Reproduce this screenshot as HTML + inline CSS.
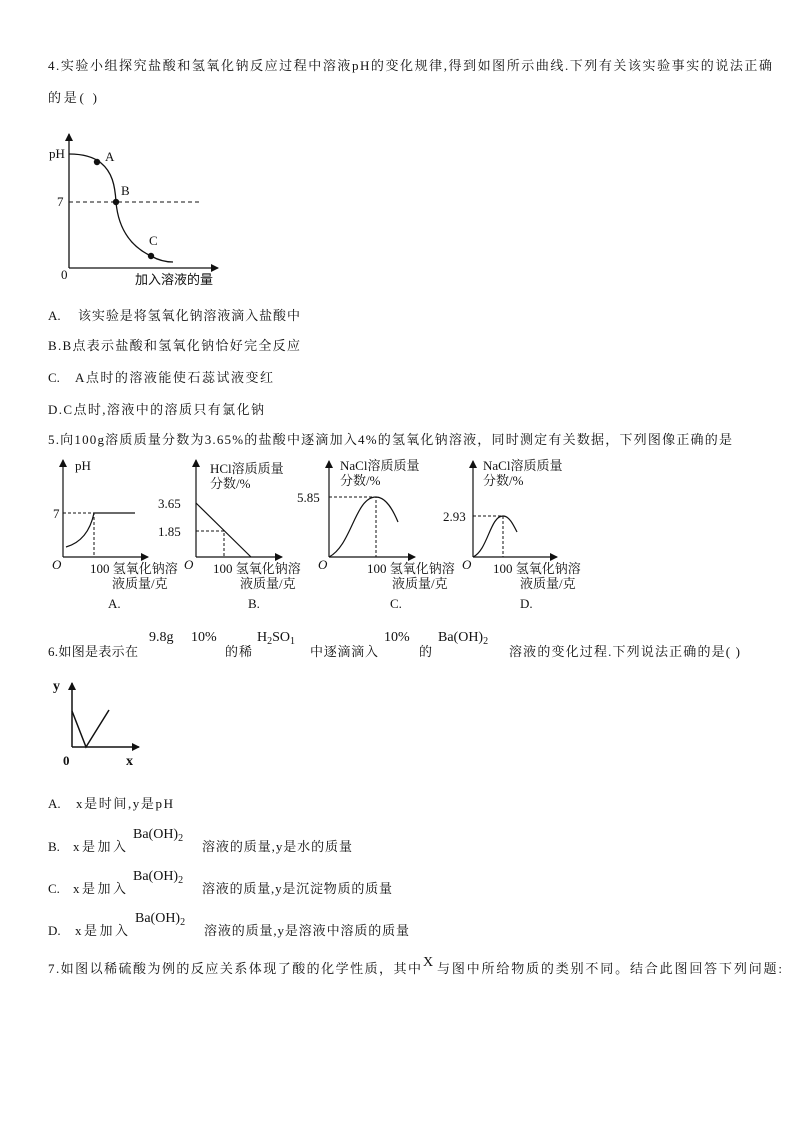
<!DOCTYPE html>
<html><head><meta charset="utf-8"><style>
html,body{margin:0;padding:0;background:#fff}
svg{display:block}
text{font-family:"Liberation Serif","Noto Serif CJK SC","Noto Sans CJK SC",serif;fill:#111}
.c{font-size:13px}
.s{font-family:"Liberation Serif",serif;font-size:14px}
.g{font-size:13px}
</style></head><body>
<svg width="794" height="1123" viewBox="0 0 794 1123" xmlns="http://www.w3.org/2000/svg">
<defs><marker id="ar" markerWidth="8" markerHeight="8" refX="7" refY="4" orient="auto" markerUnits="userSpaceOnUse"><path d="M0,0 L8,4 L0,8 Z" fill="#111"/></marker></defs>

<text class="c" x="48" y="70" textLength="724" lengthAdjust="spacing">4.实验小组探究盐酸和氢氧化钠反应过程中溶液pH的变化规律,得到如图所示曲线.下列有关该实验事实的说法正确</text>
<text class="c" x="48" y="102" textLength="49" lengthAdjust="spacing">的是(  )</text>

<!-- graph 1 -->
<g stroke="#111" fill="none" stroke-width="1.3">
<line x1="69" y1="268" x2="69" y2="134" marker-end="url(#ar)"/>
<line x1="69" y1="268" x2="218" y2="268" marker-end="url(#ar)"/>
<line x1="69" y1="202" x2="200" y2="202" stroke-dasharray="4,3" stroke-width="1"/>
<path d="M69,154 C85,154 95,158 101,163 C112,172 115,185 116,202 C118,225 128,245 151,256 C158,260 165,262 173,262"/>
</g>
<g fill="#111"><circle cx="97" cy="162" r="3.2"/><circle cx="116" cy="202" r="3.2"/><circle cx="151" cy="256" r="3.2"/></g>
<text class="c" x="49" y="158" font-size="12">pH</text>
<text class="c" x="57" y="206">7</text>
<text class="c" x="105" y="161">A</text>
<text class="c" x="121" y="195">B</text>
<text class="c" x="149" y="245">C</text>
<text class="c" x="61" y="279">0</text>
<text class="c" x="135" y="284" style="font-family:'Liberation Sans','Noto Sans CJK SC',sans-serif">加入溶液的量</text>

<text class="c" x="48" y="320">A.</text>
<text class="c" x="78" y="320" textLength="222" lengthAdjust="spacing">该实验是将氢氧化钠溶液滴入盐酸中</text>
<text class="c" x="48" y="350" textLength="252" lengthAdjust="spacing">B.B点表示盐酸和氢氧化钠恰好完全反应</text>
<text class="c" x="48" y="382">C.</text>
<text class="c" x="75" y="382" textLength="198" lengthAdjust="spacing">A点时的溶液能使石蕊试液变红</text>
<text class="c" x="48" y="414" textLength="216" lengthAdjust="spacing">D.C点时,溶液中的溶质只有氯化钠</text>
<text class="c" x="48" y="444" textLength="684" lengthAdjust="spacing">5.向100g溶质质量分数为3.65%的盐酸中逐滴加入4%的氢氧化钠溶液，同时测定有关数据，下列图像正确的是</text>

<!-- Q5 graphs -->
<g stroke="#111" fill="none" stroke-width="1.2">
<line x1="63" y1="557" x2="63" y2="460" marker-end="url(#ar)"/>
<line x1="63" y1="557" x2="148" y2="557" marker-end="url(#ar)"/>
<path d="M66,547 C80,543 90,532 94,513 L135,513"/>
<path d="M63,513 L94,513 L94,557" stroke-dasharray="3,2" stroke-width="1"/>

<line x1="196" y1="557" x2="196" y2="460" marker-end="url(#ar)"/>
<line x1="196" y1="557" x2="282" y2="557" marker-end="url(#ar)"/>
<line x1="196" y1="503" x2="251" y2="557"/>
<path d="M196,531 L224,531 L224,557" stroke-dasharray="3,2" stroke-width="1"/>

<line x1="329" y1="557" x2="329" y2="461" marker-end="url(#ar)"/>
<line x1="329" y1="557" x2="415" y2="557" marker-end="url(#ar)"/>
<path d="M329,557 C352,545 355,497 376,497 C386,497 393,510 398,522"/>
<path d="M329,497 L376,497 L376,557" stroke-dasharray="3,2" stroke-width="1"/>

<line x1="473" y1="557" x2="473" y2="461" marker-end="url(#ar)"/>
<line x1="473" y1="557" x2="557" y2="557" marker-end="url(#ar)"/>
<path d="M473,557 C488,550 490,516 503,516 C509,516 513,524 517,532"/>
<path d="M473,516 L503,516 L503,557" stroke-dasharray="3,2" stroke-width="1"/>
</g>
<text class="g" x="75" y="470">pH</text>
<text class="g" x="53" y="518">7</text>
<text class="g" x="158" y="508">3.65</text>
<text class="g" x="158" y="536">1.85</text>
<text class="g" x="210" y="473">HCl溶质质量</text>
<text class="g" x="210" y="488">分数/%</text>
<text class="g" x="297" y="502">5.85</text>
<text class="g" x="340" y="470">NaCl溶质质量</text>
<text class="g" x="340" y="485">分数/%</text>
<text class="g" x="443" y="521">2.93</text>
<text class="g" x="483" y="470">NaCl溶质质量</text>
<text class="g" x="483" y="485">分数/%</text>
<text class="g" x="52" y="569" font-style="italic">O</text>
<text class="g" x="184" y="569" font-style="italic">O</text>
<text class="g" x="318" y="569" font-style="italic">O</text>
<text class="g" x="462" y="569" font-style="italic">O</text>
<text class="g" x="90" y="573">100 氢氧化钠溶</text>
<text class="g" x="112" y="588">液质量/克</text>
<text class="g" x="108" y="608">A.</text>
<text class="g" x="213" y="573">100 氢氧化钠溶</text>
<text class="g" x="240" y="588">液质量/克</text>
<text class="g" x="248" y="608">B.</text>
<text class="g" x="367" y="573">100 氢氧化钠溶</text>
<text class="g" x="392" y="588">液质量/克</text>
<text class="g" x="390" y="608">C.</text>
<text class="g" x="493" y="573">100 氢氧化钠溶</text>
<text class="g" x="520" y="588">液质量/克</text>
<text class="g" x="520" y="608">D.</text>

<!-- Q6 -->
<text class="c" x="48" y="656" textLength="90" lengthAdjust="spacing">6.如图是表示在</text>
<text class="s" x="149" y="641">9.8g</text>
<text class="s" x="191" y="641">10%</text>
<text class="c" x="225" y="656" textLength="27" lengthAdjust="spacing">的稀</text>
<text class="s" x="257" y="641">H<tspan font-size="10" dy="3">2</tspan><tspan dy="-3">SO</tspan><tspan font-size="10" dy="3">1</tspan></text>
<text class="c" x="310" y="656" textLength="68" lengthAdjust="spacing">中逐滴滴入</text>
<text class="s" x="384" y="641">10%</text>
<text class="c" x="419" y="656">的</text>
<text class="s" x="438" y="641">Ba(OH)<tspan font-size="10" dy="3">2</tspan></text>
<text class="c" x="509" y="656" textLength="231" lengthAdjust="spacing">溶液的变化过程.下列说法正确的是(  )</text>

<g stroke="#111" fill="none" stroke-width="1.5">
<line x1="72" y1="747" x2="72" y2="683" marker-end="url(#ar)"/>
<line x1="72" y1="747" x2="139" y2="747" marker-end="url(#ar)"/>
<path d="M72,711 L86,747 L109,710"/>
</g>
<text x="53" y="690" style="font-size:14px;font-weight:bold">y</text>
<text x="63" y="765" style="font-size:13px;font-weight:bold">0</text>
<text x="126" y="765" style="font-size:14px;font-weight:bold">x</text>

<text class="c" x="48" y="808">A.</text>
<text class="c" x="76" y="808" textLength="97" lengthAdjust="spacing">x是时间,y是pH</text>

<text class="c" x="48" y="851">B.</text>
<text class="c" x="73" y="851" textLength="53" lengthAdjust="spacing">x是加入</text>
<text class="s" x="133" y="838">Ba(OH)<tspan font-size="10" dy="3">2</tspan></text>
<text class="c" x="202" y="851" textLength="150" lengthAdjust="spacing">溶液的质量,y是水的质量</text>

<text class="c" x="48" y="893">C.</text>
<text class="c" x="73" y="893" textLength="53" lengthAdjust="spacing">x是加入</text>
<text class="s" x="133" y="880">Ba(OH)<tspan font-size="10" dy="3">2</tspan></text>
<text class="c" x="202" y="893" textLength="190" lengthAdjust="spacing">溶液的质量,y是沉淀物质的质量</text>

<text class="c" x="48" y="935">D.</text>
<text class="c" x="75" y="935" textLength="53" lengthAdjust="spacing">x是加入</text>
<text class="s" x="135" y="922">Ba(OH)<tspan font-size="10" dy="3">2</tspan></text>
<text class="c" x="204" y="935" textLength="205" lengthAdjust="spacing">溶液的质量,y是溶液中溶质的质量</text>

<text class="c" x="48" y="973" textLength="373" lengthAdjust="spacing">7.如图以稀硫酸为例的反应关系体现了酸的化学性质，其中</text>
<text class="s" x="423" y="966">X</text>
<text class="c" x="437" y="973" textLength="345" lengthAdjust="spacing">与图中所给物质的类别不同。结合此图回答下列问题:</text>
</svg>
</body></html>
